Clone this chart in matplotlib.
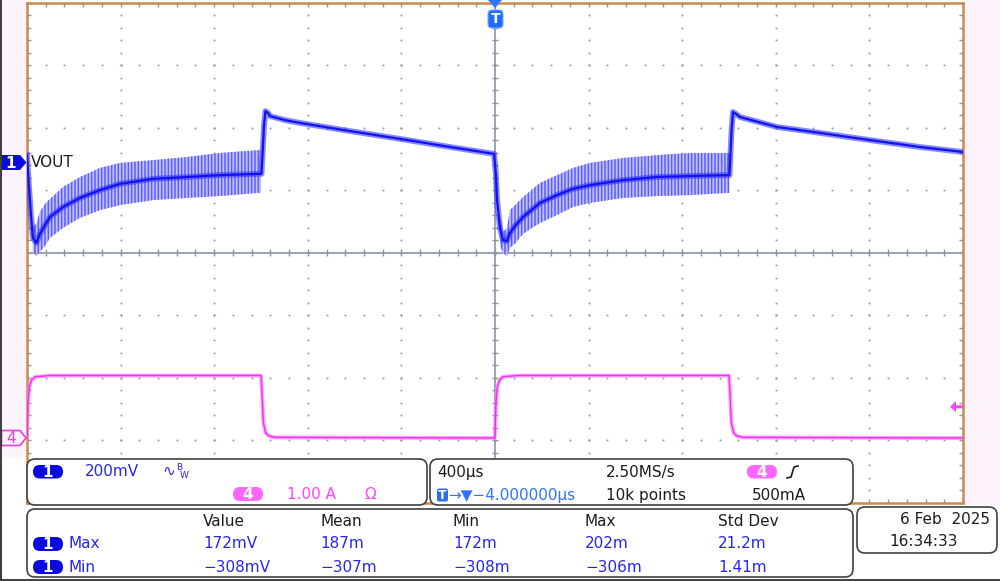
import numpy as np
import matplotlib.pyplot as plt
from matplotlib.patches import FancyBboxPatch, Polygon, Rectangle

plt.rcParams['font.family'] = ['DejaVu Sans']
plt.rcParams['hatch.linewidth'] = 1.1

# scope settings
time_scale = 0.4      # ms/div
ch1_scale = 200.0     # mV/div
ch1_offset = 1.448    # div above centre
ch4_scale = 1.0       # A/div
ch4_offset = -2.968
trig_level = 0.5      # A

# VOUT, centre of trace (ms, mV)
v_t = [-2.000, -1.996, -1.991, -1.983, -1.975, -1.960, -1.945, -1.923, -1.902,
       -1.846, -1.774, -1.688, -1.603, -1.462, -1.316, -1.175, -1.013, -0.998,
       -0.987, -0.981, -0.970, -0.962, -0.897, -0.833, -0.620, -0.406, -0.192,
       -0.004, 0.004, 0.009, 0.021, 0.034, 0.051, 0.064, 0.085, 0.120, 0.192,
       0.265, 0.333, 0.406, 0.547, 0.692, 0.833, 0.992, 1.002, 1.011, 1.017,
       1.030, 1.047, 1.205, 1.389, 1.603, 1.816, 2.000]
v_mv = [22, -26, -83, -170, -243, -259, -230, -202, -176,
        -144, -115, -90, -70, -54, -48, -42, -38, -38,
        118, 163, 157, 147, 134, 125, 99, 74, 48,
        26, -42, -122, -211, -250, -253, -227, -205, -176, -131,
        -106, -86, -74, -58, -48, -45, -42, -42, 102, 160,
        154, 144, 112, 93, 70, 48, 32]

# ripple envelope while the load is on (ms, mV)
rip1_t = [-1.975, -1.960, -1.945, -1.923, -1.902, -1.846, -1.774, -1.688,
          -1.603, -1.462, -1.316, -1.175, -1.013, -1.000]
rip1_hi = [-205, -198, -160, -134, -118, -80, -48, -19, -3, 6, 16, 29, 38, 38]
rip1_lo = [-288, -301, -288, -269, -243, -211, -179, -154, -138, -122, -115,
           -109, -99, -99]
rip2_t = [0.021, 0.034, 0.051, 0.064, 0.085, 0.120, 0.192, 0.265, 0.333,
          0.406, 0.547, 0.692, 0.833, 0.992, 1.002]
rip2_hi = [-170, -224, -211, -154, -138, -112, -67, -42, -19, -3, 13, 22, 29,
           29, 29]
rip2_lo = [-266, -291, -301, -275, -262, -230, -195, -170, -144, -131, -115,
           -109, -106, -99, -99]

# load current (ms, A)
i_t = [-2.000, -1.996, -1.990, -1.980, -1.965, -1.900, -1.000, -0.996, -0.990,
       -0.980, -0.965, -0.940, -0.002, 0.000, 0.004, 0.010, 0.020, 0.035,
       0.100, 1.000, 1.004, 1.010, 1.020, 1.035, 1.060, 2.000]
i_a = [0.02, 0.55, 0.82, 0.93, 0.98, 1.00, 1.00, 0.75, 0.25,
       0.08, 0.03, 0.01, 0.00, 0.05, 0.55, 0.82, 0.93, 0.98,
       1.00, 1.00, 0.75, 0.25, 0.08, 0.03, 0.01, 0.00]

# readouts
ch1_label = 'VOUT'
ch1_volts = '200mV'
ch4_amps = '1.00 A'
tb_text = '400µs'
sr_text = '2.50MS/s'
pts_text = '10k points'
trig_text = '500mA'
delay_text = '→▼−4.000000µs'
meas_cols = ['Value', 'Mean', 'Min', 'Max', 'Std Dev']
meas_max = ['172mV', '187m', '172m', '202m', '21.2m']
meas_min = ['−308mV', '−307m', '−308m', '−306m', '1.41m']
date_text = '6 Feb  2025'
time_text = '16:34:33'

blue = '#1212f0'
btxt = '#2626ee'
mag = '#ff44ff'
dark = '#1c1c1c'
orange = '#c98a50'
dotc = '#8896b0'

fig = plt.figure(figsize=(10, 5.81), dpi=100)
fig.patch.set_facecolor('white')

ax = fig.add_axes([27 / 1000, 1 - 502.5 / 581, 936 / 1000, 500 / 581])
ax.set_xlim(-5, 5)
ax.set_ylim(-4, 4)
ax.set_facecolor('white')
for s in ax.spines.values():
    s.set_color(orange)
    s.set_linewidth(1.8)
ax.set_xticks(np.arange(-5, 5.01, 1))
ax.set_yticks(np.arange(-4, 4.01, 1))
ax.set_xticks(np.arange(-5, 5.01, 0.2), minor=True)
ax.set_yticks(np.arange(-4, 4.01, 0.2), minor=True)
ax.tick_params(which='both', direction='in', top=True, right=True,
               labelbottom=False, labelleft=False, color=dotc, width=1,
               length=3)

# graticule
mx = np.arange(-5, 5.001, 0.2)
my = np.arange(-4, 4.001, 0.2)
for gx in range(-4, 5):
    if gx != 0:
        ax.plot(np.full_like(my, gx), my, ls='none', marker='s', ms=1.3,
                mew=0, color=dotc, zorder=1)
for gy in range(-3, 4):
    if gy != 0:
        ax.plot(mx, np.full_like(mx, gy), ls='none', marker='s', ms=1.3,
                mew=0, color=dotc, zorder=1)
ax.axhline(0, color='#8a94a8', lw=1.2, zorder=1)
ax.axvline(0, color='#8a94a8', lw=1.2, zorder=1)
ax.vlines(mx, -0.05, 0.05, color='#8a94a8', lw=1, zorder=1)
ax.hlines(my, -0.035, 0.035, color='#8a94a8', lw=1, zorder=1)

# channel 1
for rt, rh, rl in [(rip1_t, rip1_hi, rip1_lo), (rip2_t, rip2_hi, rip2_lo)]:
    x = np.array(rt) / time_scale
    ax.fill_between(x, ch1_offset + np.array(rl) / ch1_scale,
                    ch1_offset + np.array(rh) / ch1_scale,
                    facecolor='#c2c2ff', edgecolor='#5c5cff', hatch='|||||',
                    lw=0, zorder=3)
vx = np.array(v_t) / time_scale
vy = ch1_offset + np.array(v_mv) / ch1_scale
ax.plot(vx, vy, color='#3a3aff', lw=4.2, alpha=0.6, zorder=4,
        solid_joinstyle='round')
ax.plot(vx, vy, color=blue, lw=1.6, zorder=5)

# channel 4
ix = np.array(i_t) / time_scale
iy = ch4_offset + np.array(i_a) / ch4_scale
ax.plot(ix, iy, color='#ff7aff', lw=2.8, alpha=0.7, zorder=4)
ax.plot(ix, iy, color='#f030f0', lw=1.0, zorder=5)

# overlay in pixel units
ov = fig.add_axes([0, 0, 1, 1], zorder=5)
ov.set_xlim(0, 1000)
ov.set_ylim(581, 0)
ov.axis('off')
ov.patch.set_alpha(0)

ov.add_patch(Rectangle((1, 0), 25, 457, fc='#fdf4fb', ec='none'))
ov.add_patch(Rectangle((965, 0), 35, 505, fc='#fdf4fb', ec='none'))
ov.plot([0.7, 0.7], [0, 581], color='#3a3a3a', lw=1.4)
ov.add_patch(Rectangle((0, 578.5), 1000, 2.5, fc='#444444', ec='none'))


def panel(x, y, w, h):
    ov.add_patch(FancyBboxPatch((x, y), w, h,
                                boxstyle='round,pad=0,rounding_size=8',
                                fc='white', ec='#404040', lw=1.2))


def pill(x, y, w, h, color, label):
    ov.add_patch(FancyBboxPatch((x, y), w, h,
                                boxstyle='round,pad=0,rounding_size=%g' % (h / 2),
                                fc=color, ec='none'))
    ov.text(x + w / 2, y + h / 2 + 0.5, label, color='white', fontsize=11,
            fontweight='bold', ha='center', va='center')


fs = 11
panel(27, 459, 400, 46)
panel(430, 459, 423, 46)
panel(27, 509, 826, 68)
panel(857, 507, 140, 46)

# channel panel
pill(33, 465, 30, 13.5, '#0a0ae0', '1')
ov.text(85, 472, ch1_volts, color=btxt, fontsize=fs, va='center')
ov.text(162, 471, '∿', color=btxt, fontsize=fs, va='center')
ov.text(176, 467, 'B', color=btxt, fontsize=6.5, va='center')
ov.text(180, 475, 'W', color=btxt, fontsize=6.5, va='center')
pill(233, 487, 30, 14, '#ff66ff', '4')
ov.text(287, 494.5, ch4_amps, color=mag, fontsize=fs, va='center')
ov.text(364, 494.5, 'Ω', color=mag, fontsize=fs, va='center')

# timebase panel
ov.text(437, 472, tb_text, color=dark, fontsize=fs, va='center')
ov.text(606, 472, sr_text, color=dark, fontsize=fs, va='center')
pill(747, 465, 30, 13.5, '#ff66ff', '4')
ov.plot([787, 791, 794, 798], [478, 477, 467, 466], color=dark, lw=1.2)
ov.add_patch(FancyBboxPatch((437, 488.5), 11, 13,
                            boxstyle='round,pad=0,rounding_size=2',
                            fc='#2a6cf5', ec='none'))
ov.text(442.5, 495.5, 'T', color='white', fontsize=9, fontweight='bold',
        ha='center', va='center')
ov.text(448, 495.5, delay_text, color='#3372ff', fontsize=fs, va='center')
ov.text(606, 495.5, pts_text, color=dark, fontsize=fs, va='center')
ov.text(752, 495.5, trig_text, color=dark, fontsize=fs, va='center')

# measurement panel
col_x = [203, 320, 453, 585, 718]
for cx, head, a, b in zip(col_x, meas_cols, meas_max, meas_min):
    ov.text(cx, 521, head, color=dark, fontsize=fs, va='center')
    ov.text(cx, 544, a, color=btxt, fontsize=fs, va='center')
    ov.text(cx, 567, b, color=btxt, fontsize=fs, va='center')
pill(33, 537, 30, 14, '#0a0ae0', '1')
pill(33, 560, 30, 14, '#0a0ae0', '1')
ov.text(69, 544, 'Max', color=btxt, fontsize=fs, va='center')
ov.text(69, 567, 'Min', color=btxt, fontsize=fs, va='center')

# date panel
ov.text(990, 520, date_text, color=dark, fontsize=fs, va='center', ha='right')
ov.text(889, 542, time_text, color=dark, fontsize=fs, va='center')

# channel markers
ov.add_patch(Polygon([(1, 155), (20, 155), (26.5, 162.5), (20, 170), (1, 170)],
                     closed=True, fc='#0a0ae0', ec='none'))
ov.text(11, 163, '1', color='white', fontsize=11, fontweight='bold',
        ha='center', va='center')
ov.text(31, 162.5, ch1_label, color=dark, fontsize=fs, va='center')
ov.add_patch(Polygon([(1.5, 430.5), (20, 430.5), (26, 438), (20, 445.5),
                      (1.5, 445.5)], closed=True, fc='#fff2fd', ec='#e040e0',
                     lw=1.2))
ov.text(11, 438.5, '4', color='#e040e0', fontsize=11, ha='center',
        va='center')

# trigger position marker
ov.add_patch(Polygon([(488, 0), (502, 0), (495, 8)], closed=True,
                     fc='#2a78ff', ec='none'))
ov.add_patch(FancyBboxPatch((488, 10), 15, 18,
                            boxstyle='round,pad=0,rounding_size=4',
                            fc='#1f6cff', ec='#7aaaff', lw=0.8))
ov.text(495.5, 19, 'T', color='white', fontsize=10, fontweight='bold',
        ha='center', va='center')

# trigger level marker (ch4 500 mA)
ty = 252.5 - (ch4_offset + trig_level / ch4_scale) * 62.5
ov.add_patch(Polygon([(950, ty), (956, ty - 5.5), (956, ty - 1.5), (963, ty - 1.5),
                      (963, ty + 1.5), (956, ty + 1.5), (956, ty + 5.5)],
                     closed=True, fc=mag, ec='none'))

fig.savefig('out.png', dpi=100)
